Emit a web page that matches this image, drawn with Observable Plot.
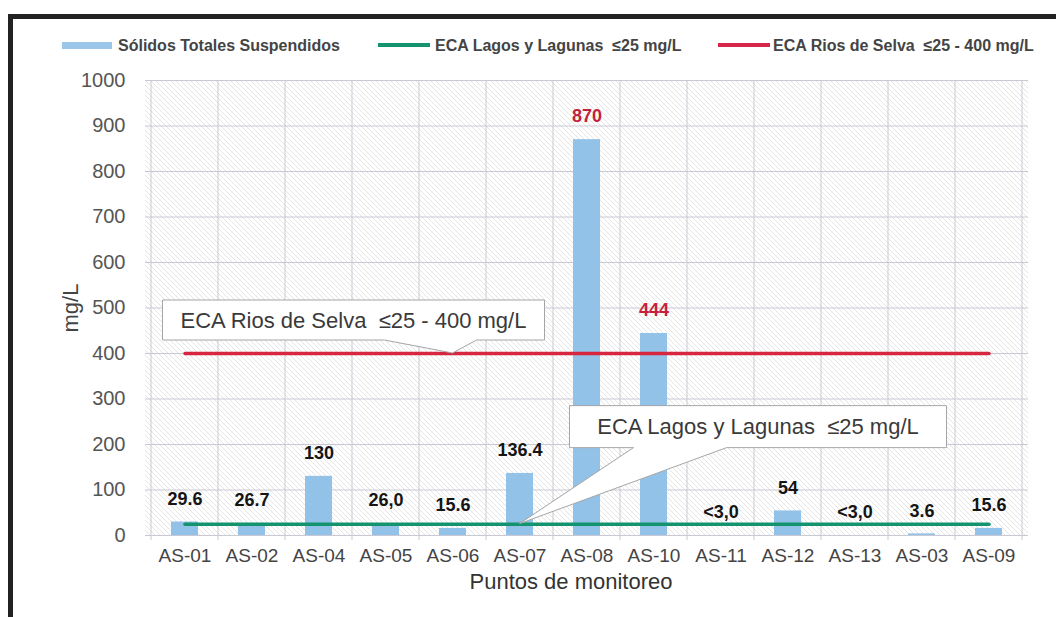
<!DOCTYPE html>
<html><head><meta charset="utf-8">
<script src="https://cdn.jsdelivr.net/npm/d3@7"></script>
<script src="https://cdn.jsdelivr.net/npm/@observablehq/plot@0.6"></script>
<style>
body{margin:0;background:#fff;font-family:"Liberation Sans",Arial,sans-serif;}
#wrap{position:relative;width:1056px;height:617px;overflow:hidden;background:#fff;}
#frame{position:absolute;left:8px;top:14px;width:1100px;height:700px;border-left:5px solid #222;border-top:5px solid #222;}
.leg{position:absolute;top:36px;font-size:16px;font-weight:bold;color:#444;white-space:nowrap;line-height:19px;}
.sw{position:absolute;}
#chart{position:absolute;left:0;top:0;}
</style></head><body>
<div id="wrap">
<div id="frame"></div>
<div id="chart"></div>
<div class="sw" style="left:62px;top:42px;width:50px;height:7px;background:#9ac6ea"></div>
<div class="leg" style="left:118px">Sólidos Totales Suspendidos</div>
<div class="sw" style="left:378px;top:43px;width:52px;height:4px;background:#15936e"></div>
<div class="leg" style="left:435px">ECA Lagos y Lagunas&nbsp; ≤25 mg/L</div>
<div class="sw" style="left:718px;top:43px;width:52px;height:4px;background:#d6264a"></div>
<div class="leg" style="left:773px">ECA Rios de Selva&nbsp; ≤25 - 400 mg/L</div>
</div>
<script>
const puntos = ["AS-01","AS-02","AS-04","AS-05","AS-06","AS-07","AS-08","AS-10","AS-11","AS-12","AS-13","AS-03","AS-09"];
const sts = [29.6, 26.7, 130, 26.0, 15.6, 136.4, 870, 444, 0, 54, 0, 3.6, 15.6];
const etiquetas = ["29.6","26.7","130","26,0","15.6","136.4","870","444","<3,0","54","<3,0","3.6","15.6"];
const ecaLagos = 25;
const ecaRios = 400;
const yTicks = [0,100,200,300,400,500,600,700,800,900,1000];
const textoRios = "ECA Rios de Selva  ≤25 - 400 mg/L";
const textoLagos = "ECA Lagos y Lagunas  ≤25 mg/L";

const data = puntos.map((p, i) => ({punto: p, valor: sts[i], etiqueta: etiquetas[i], excede: sts[i] > ecaRios}));

const gridColor = "#c9c9d5";

function hatch(index, scales, values, dim) {
  const g = d3.create("svg:g");
  const pat = g.append("defs").append("pattern")
    .attr("id", "hatchPat").attr("patternUnits", "userSpaceOnUse")
    .attr("width", 5).attr("height", 5);
  pat.append("path").attr("d", "M0,0L5,5M-1,4L1,6M4,-1L6,1")
    .attr("stroke", "#dadada").attr("stroke-width", 0.7);
  g.append("rect")
    .attr("x", dim.marginLeft).attr("y", dim.marginTop)
    .attr("width", dim.width - dim.marginLeft - dim.marginRight)
    .attr("height", dim.height - dim.marginTop - dim.marginBottom)
    .attr("fill", "url(#hatchPat)");
  return g.node();
}

function vgrid(index, scales, values, dim) {
  const x = scales.x;
  const bw = x.bandwidth ? x.bandwidth() : x(puntos[1]) - x(puntos[0]);
  const xs = puntos.map(p => x(p)).concat([x(puntos[puntos.length - 1]) + bw]);
  const g = d3.create("svg:g");
  g.selectAll("line").data(xs).join("line")
    .attr("x1", d => d).attr("x2", d => d)
    .attr("y1", dim.marginTop).attr("y2", dim.height - dim.marginBottom + 5)
    .attr("stroke", gridColor);
  return g.node();
}

function callouts(index, scales, values, dim) {
  const x = scales.x, y = scales.y;
  const bw = x.bandwidth ? x.bandwidth() : x(puntos[1]) - x(puntos[0]);
  const g = d3.create("svg:g");
  function one(tx, ty, l, r, t, b, bl, br, label) {
    const L = tx + l, R = tx + r, T = ty + t, B = ty + b;
    g.append("path")
      .attr("d", `M${L},${T}H${R}V${B}H${tx + br}L${tx},${ty}L${tx + bl},${B}H${L}Z`)
      .attr("fill", "#fff").attr("stroke", "#a5a5a5").attr("stroke-width", 1);
    g.append("text").attr("x", (L + R) / 2).attr("y", (T + B) / 2)
      .attr("text-anchor", "middle").attr("dominant-baseline", "central")
      .attr("font-size", 22).attr("fill", "#3a3a3a")
      .style("white-space", "pre")
      .text(label);
  }
  one(x("AS-06") + bw / 2, y(ecaRios), -290, 92, -53, -13, -68, 24, textoRios);
  one(x("AS-07") + bw / 2, y(ecaLagos), 50, 427, -118, -76, 114, 207, textoLagos);
  return g.node();
}

const chart = Plot.plot({
  width: 1056,
  height: 617,
  marginLeft: 145,
  marginRight: 28,
  marginTop: 80,
  marginBottom: 82,
  style: {fontFamily: "Liberation Sans, Arial, sans-serif", background: "transparent"},
  x: {domain: puntos, padding: 0},
  y: {domain: [0, 1000]},
  marks: [
    hatch,
    Plot.gridY(yTicks, {stroke: gridColor, strokeOpacity: 1}),
    vgrid,
    Plot.barY(data, {x: "punto", y: "valor", fill: "#93c2e8", insetLeft: 20, insetRight: 20}),
    Plot.lineY(puntos, {x: d => d, y: () => ecaRios, stroke: "#d7263f", strokeWidth: 3.5}),
    Plot.lineY(puntos, {x: d => d, y: () => ecaLagos, stroke: "#13946e", strokeWidth: 3.5}),
    callouts,
    Plot.text(data.filter(d => !d.excede), {x: "punto", y: "valor", text: "etiqueta", dy: -23, fontSize: 18, fontWeight: "bold", fill: "#151515"}),
    Plot.text(data.filter(d => d.excede), {x: "punto", y: "valor", text: "etiqueta", dy: -23, fontSize: 18, fontWeight: "bold", fill: "#c41f3b"}),
    Plot.axisY(yTicks, {tickSize: 0, tickPadding: 20, fontSize: 20, fill: "#555", label: null, tickFormat: d => String(d)}),
    Plot.axisX({tickSize: 0, tickPadding: 13, fontSize: 19, fill: "#444", label: null}),
    Plot.text(["mg/L"], {text: d => d, frameAnchor: "left", textAnchor: "middle", rotate: -90, dx: -75, fontSize: 22, fill: "#444"}),
    Plot.text(["Puntos de monitoreo"], {text: d => d, frameAnchor: "bottom", dy: 53, dx: -16, fontSize: 22, fill: "#333"})
  ]
});
document.getElementById("chart").appendChild(chart);
</script>
</body></html>
